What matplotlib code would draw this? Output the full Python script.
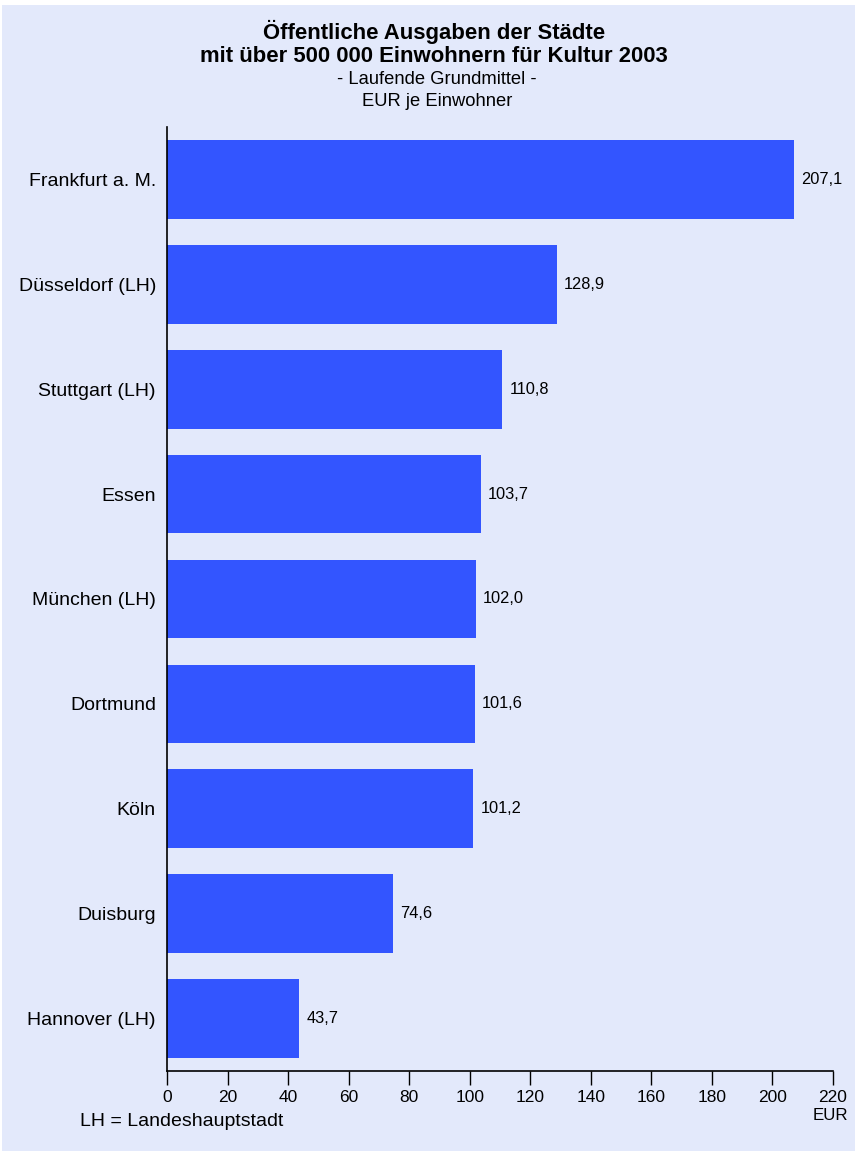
import numpy as np
import matplotlib.pyplot as plt
from matplotlib.patches import Rectangle

plt.rcParams['font.family'] = ['Liberation Sans', 'DejaVu Sans']

# data
cities = ['Frankfurt a. M.', 'Düsseldorf (LH)', 'Stuttgart (LH)', 'Essen',
          'München (LH)', 'Dortmund', 'Köln', 'Duisburg', 'Hannover (LH)']
values = [207.1, 128.9, 110.8, 103.7, 102.0, 101.6, 101.2, 74.6, 43.7]
xticks = list(range(0, 221, 20))

bg = '#E3E9FB'
bar_color = '#3355FF'

fig = plt.figure(figsize=(8.58, 11.53), dpi=100)
fig.patch.set_facecolor('white')
# lavender panel with a thin white margin
fig.patches.append(Rectangle((2 / 858, 1 - 1151 / 1153), 853 / 858, 1146 / 1153,
                             transform=fig.transFigure, facecolor=bg,
                             edgecolor='none', zorder=-5))

ax = fig.add_axes([167 / 858, 1 - 1071 / 1153, 666 / 858, 944 / 1153])
ax.set_facecolor(bg)
ax.patch.set_alpha(0)

y = np.arange(len(cities))
ax.barh(y, values, height=0.75, color=bar_color, zorder=2)
for yi, v in zip(y, values):
    ax.text(v + 2.3, yi, f'{v:.1f}'.replace('.', ','), va='center', ha='left',
            fontsize=11.8)

ax.set_ylim(len(cities) - 0.5, -0.5)
ax.set_xlim(0, 220)
ax.set_yticks(y)
ax.set_yticklabels(cities, fontsize=14)
ax.tick_params(axis='y', length=0, pad=8)
ax.set_xticks(xticks)
ax.set_xticklabels([str(t) for t in xticks], fontsize=12.5)
ax.tick_params(axis='x', length=10, width=1, direction='out', pad=4)
for s in ['top', 'right']:
    ax.spines[s].set_visible(False)
ax.spines['left'].set_linewidth(1.2)
ax.spines['bottom'].set_linewidth(1.2)

cx = 434 / 858
fig.text(cx, 1 - 32 / 1153, 'Öffentliche Ausgaben der Städte', ha='center',
         va='center', fontsize=15.9, fontweight='bold')
fig.text(cx, 1 - 57 / 1153, 'mit über 500 000 Einwohnern für Kultur 2003',
         ha='center', va='center', fontsize=15.9, fontweight='bold')
fig.text(cx + 3 / 858, 1 - 80 / 1153, '- Laufende Grundmittel -', ha='center',
         va='center', fontsize=13.2)
fig.text(cx + 3 / 858, 1 - 102 / 1153, 'EUR je Einwohner', ha='center',
         va='center', fontsize=13.2)

fig.text(80 / 858, 1 - 1121 / 1153, 'LH = Landeshauptstadt', ha='left',
         va='center', fontsize=14)
fig.text(830 / 858, 1 - 1116 / 1153, 'EUR', ha='center', va='center',
         fontsize=12.2)

fig.savefig('out.png', dpi=100, facecolor=fig.get_facecolor())
